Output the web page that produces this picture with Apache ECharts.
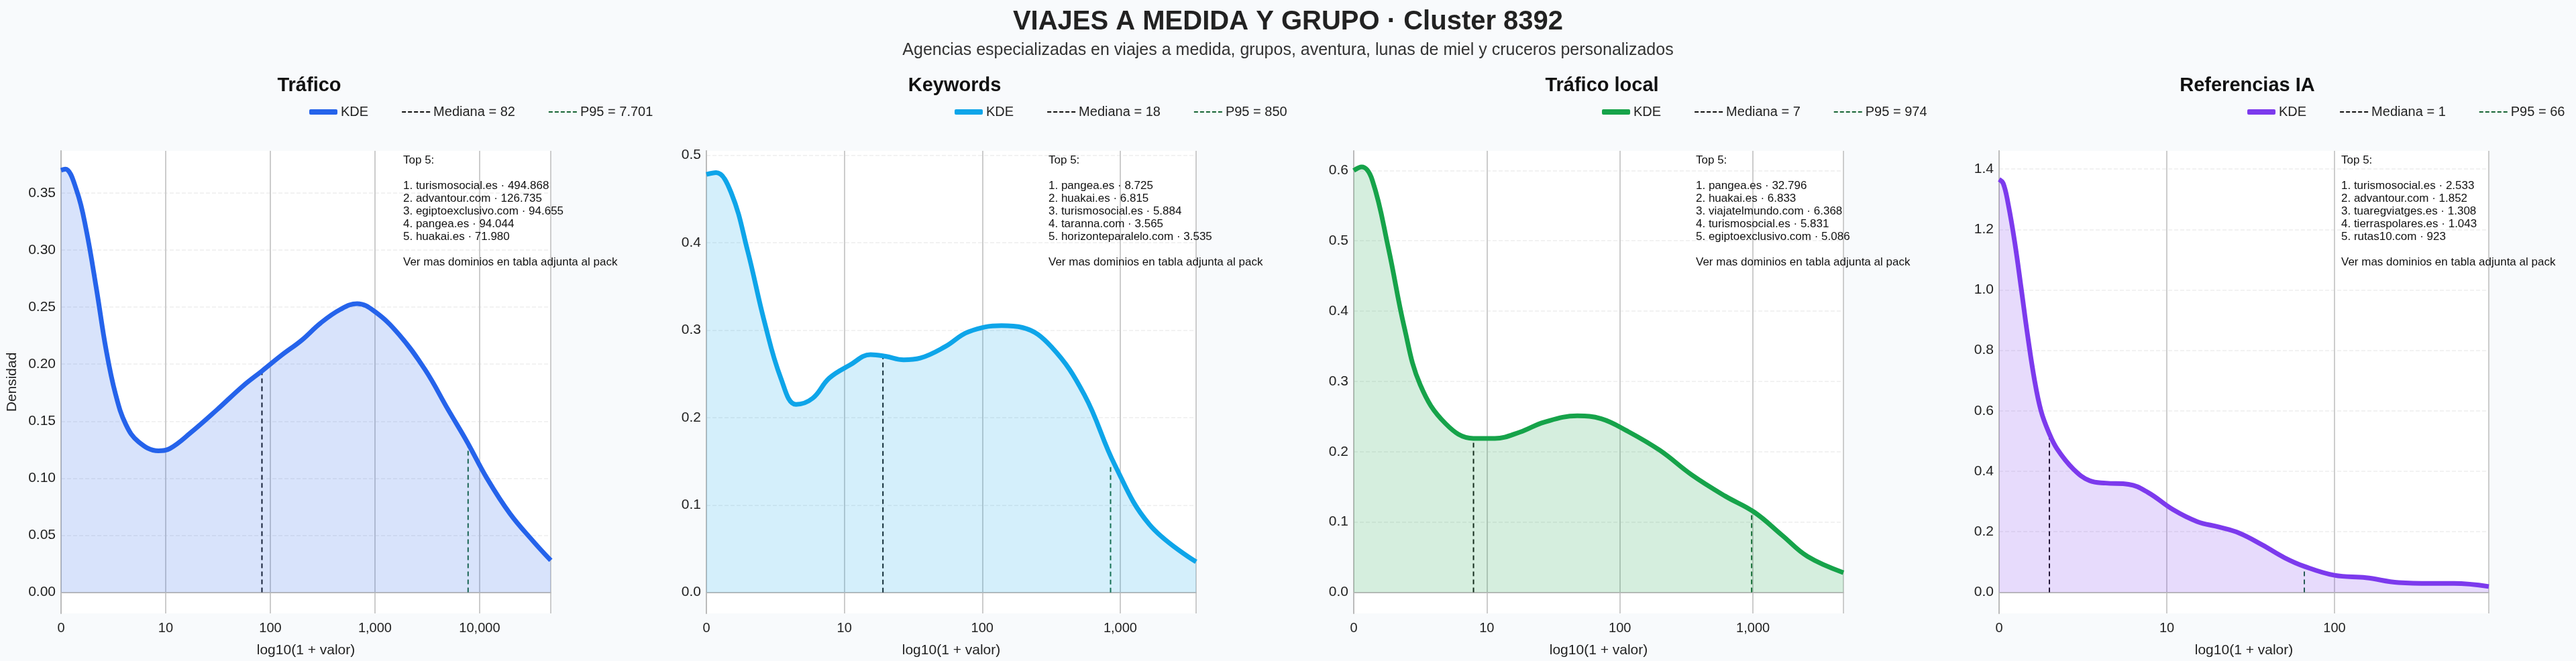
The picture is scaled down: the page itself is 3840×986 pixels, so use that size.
<!DOCTYPE html>
<html><head><meta charset="utf-8">
<script src="https://cdn.jsdelivr.net/npm/echarts@6/dist/echarts.min.js"></script>
<style>html,body{margin:0;background:#f8fafc}#c{width:3840px;height:986px}</style>
</head><body><div id="c"></div>
<script>
const panelTitles = ['Tráfico','Keywords','Tráfico local','Referencias IA'];
const colors = ['#2563eb','#0ea5e9','#16a34a','#7c3aed'];
const medianLabels = ['Mediana = 82','Mediana = 18','Mediana = 7','Mediana = 1'];
const p95Labels = ['P95 = 7.701','P95 = 850','P95 = 974','P95 = 66'];
const medianX = [1.92, 1.28, 0.90, 0.30];
const medianY = [0.194, 0.270, 0.219, 0.525];
const p95X = [3.89, 2.93, 2.99, 1.82];
const p95Y = [0.13, 0.146, 0.114, 0.085];
const xMax = [4.68, 3.55, 3.68, 2.92];
const yMin = [-0.0185, -0.024, -0.03, -0.07];
const yMax = [0.387, 0.505, 0.628, 1.46];
const yTicks = [[0,0.05,0.10,0.15,0.20,0.25,0.30,0.35],[0,0.1,0.2,0.3,0.4,0.5],[0,0.1,0.2,0.3,0.4,0.5,0.6],[0,0.2,0.4,0.6,0.8,1.0,1.2,1.4]];
const yDec = [2,1,1,1];
const kde1 = [[0,0.37],[0.04,0.371],[0.15,0.352],[0.24,0.318],[0.34,0.265],[0.43,0.213],[0.52,0.174],[0.62,0.147],[0.74,0.132],[0.93,0.124],[1.04,0.126],[1.24,0.14],[1.49,0.16],[1.74,0.181],[1.92,0.194],[2.11,0.208],[2.3,0.221],[2.48,0.236],[2.67,0.248],[2.83,0.253],[3.0,0.246],[3.23,0.226],[3.48,0.195],[3.7,0.16],[3.88,0.132],[4.07,0.1],[4.29,0.069],[4.51,0.045],[4.68,0.028]];
const kde2 = [[0,0.478],[0.07,0.48],[0.18,0.457],[0.3,0.39],[0.42,0.31],[0.54,0.245],[0.65,0.215],[0.77,0.222],[0.89,0.245],[1.04,0.26],[1.19,0.272],[1.3,0.27],[1.43,0.266],[1.55,0.268],[1.73,0.281],[1.9,0.298],[2.14,0.305],[2.29,0.303],[2.5,0.281],[2.74,0.226],[2.96,0.146],[3.21,0.078],[3.55,0.035]];
const kde3 = [[0,0.6],[0.06,0.605],[0.14,0.586],[0.26,0.49],[0.38,0.377],[0.5,0.295],[0.69,0.24],[0.9,0.219],[1.06,0.219],[1.25,0.228],[1.43,0.242],[1.68,0.251],[1.86,0.247],[2.05,0.23],[2.3,0.202],[2.54,0.167],[2.79,0.137],[3.01,0.114],[3.22,0.081],[3.41,0.051],[3.68,0.028]];
const kde4 = [[0,1.366],[0.025,1.352],[0.054,1.285],[0.093,1.159],[0.132,1.005],[0.17,0.85],[0.21,0.706],[0.25,0.6],[0.297,0.528],[0.345,0.475],[0.442,0.408],[0.54,0.369],[0.636,0.361],[0.772,0.357],[0.888,0.33],[1.038,0.273],[1.18,0.234],[1.315,0.215],[1.43,0.196],[1.568,0.157],[1.703,0.114],[1.823,0.085],[2.0,0.056],[2.188,0.048],[2.382,0.032],[2.576,0.029],[2.712,0.029],[2.92,0.019]];
const kdes = [kde1,kde2,kde3,kde4];
const top5 = [
 ['1. turismosocial.es · 494.868','2. advantour.com · 126.735','3. egiptoexclusivo.com · 94.655','4. pangea.es · 94.044','5. huakai.es · 71.980'],
 ['1. pangea.es · 8.725','2. huakai.es · 6.815','3. turismosocial.es · 5.884','4. taranna.com · 3.565','5. horizonteparalelo.com · 3.535'],
 ['1. pangea.es · 32.796','2. huakai.es · 6.833','3. viajatelmundo.com · 6.368','4. turismosocial.es · 5.831','5. egiptoexclusivo.com · 5.086'],
 ['1. turismosocial.es · 2.533','2. advantour.com · 1.852','3. tuaregviatges.es · 1.308','4. tierraspolares.es · 1.043','5. rutas10.com · 923']
];

const lefts = [91, 1053, 2018, 2980];
const W = 730;
const font = 'Liberation Sans, Arial, sans-serif';
const dashIcon = 'path://M0,0h6v2h-6zM9,0h6v2h-6zM18,0h6v2h-6zM27,0h6v2h-6zM36,0h6v2h-6z';
const option = {
  backgroundColor:'#f8fafc',
  textStyle:{fontFamily:font},
  title:[{text:'VIAJES A MEDIDA Y GRUPO · Cluster 8392', left:'center', top:8,
    textStyle:{fontSize:40,fontWeight:'bold',color:'#222',fontFamily:font},
    subtext:'Agencias especializadas en viajes a medida, grupos, aventura, lunas de miel y cruceros personalizados',
    subtextStyle:{fontSize:25,color:'#333',fontFamily:font}, itemGap:10}],
  legend:[], grid:[], xAxis:[], yAxis:[], series:[], graphic:[]
};
for(let i=0;i<4;i++){
  const cx = lefts[i]+W/2;
  option.title.push({text:panelTitles[i], left:cx, top:108, textAlign:'center',
    textStyle:{fontSize:29,fontWeight:'bold',color:'#111',fontFamily:font}});
  option.legend.push({left:cx, top:152, textAlign:'center', itemWidth:42, itemHeight:8, itemGap:50,
    textStyle:{fontSize:20,color:'#222'},
    data:[{name:'KDE'+i, icon:'roundRect'},
          {name:medianLabels[i], icon:dashIcon, itemStyle:{color:'#111'}},
          {name:p95Labels[i], icon:dashIcon, itemStyle:{color:'#166534'}}],
    formatter:n=>n.startsWith('KDE')?'KDE':n});
  option.grid.push({left:lefts[i], width:W, top:225, bottom:68, backgroundColor:'#fff', show:true, borderWidth:0});
  option.xAxis.push({type:'value', gridIndex:i, min:0, max:xMax[i], interval:1,
    name:'log10(1 + valor)', nameLocation:'middle', nameGap:45, nameTextStyle:{fontSize:21,color:'#222'},
    axisLine:{lineStyle:{color:'#bbb',width:2}}, axisTick:{show:false},
    axisLabel:{fontSize:20,color:'#222',margin:12,showMaxLabel:false,
      formatter:v=>v===0?'0':Math.round(Math.pow(10,v)).toLocaleString('en-US')},
    splitLine:{show:true,lineStyle:{color:'#ccc',width:2}}});
  option.yAxis.push({type:'value', gridIndex:i, min:yMin[i], max:yMax[i],
    name:i===0?'Densidad':'', nameLocation:'middle', nameGap:62, nameTextStyle:{fontSize:21,color:'#222'},
    axisLine:{show:true,lineStyle:{color:'#bbb',width:2}},
    axisTick:{show:false, customValues:yTicks[i]},
    axisLabel:{fontSize:21,color:'#222',customValues:yTicks[i],formatter:v=>v.toFixed(yDec[i])},
    splitLine:{show:true,lineStyle:{color:'#eee',type:'dashed',width:1.5}}});
  option.series.push({name:'KDE'+i, type:'line', xAxisIndex:i, yAxisIndex:i, data:kdes[i], smooth:0.4,
    showSymbol:false, symbol:'none', color:colors[i], lineStyle:{width:7,color:colors[i]},
    areaStyle:{color:colors[i],opacity:0.18}, z:3});
  option.series.push({name:medianLabels[i], type:'line', xAxisIndex:i, yAxisIndex:i,
    data:[[medianX[i],0],[medianX[i],medianY[i]]], symbol:'none', color:'#111',
    lineStyle:{width:2,type:[7,5],color:'#111'}, z:2});
  option.series.push({name:p95Labels[i], type:'line', xAxisIndex:i, yAxisIndex:i,
    data:[[p95X[i],0],[p95X[i],p95Y[i]]], symbol:'none', color:'#166534',
    lineStyle:{width:2,type:[7,5],color:'#166534'}, z:2});
  option.graphic.push({type:'text', left:lefts[i]+510, top:230, z:10,
    style:{text:'Top 5:\n\n'+top5[i].join('\n')+'\n\nVer mas dominios en tabla adjunta al pack',
      fontSize:17, lineHeight:19, fill:'#111', fontFamily:font}});
}
echarts.init(document.getElementById('c')).setOption(option);
</script></body></html>
